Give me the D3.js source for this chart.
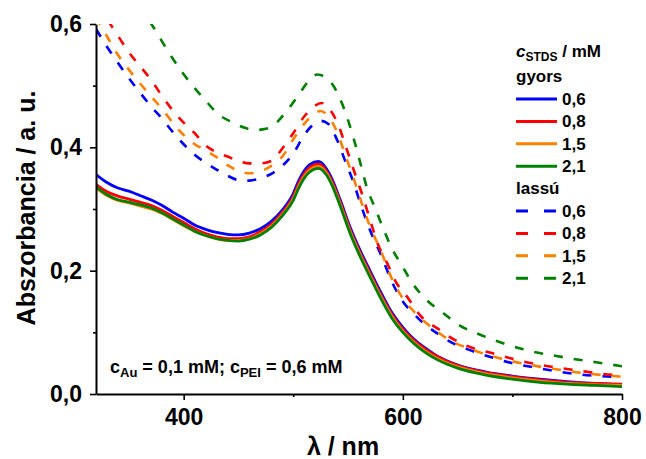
<!DOCTYPE html>
<html>
<head>
<meta charset="utf-8">
<script src="https://cdn.jsdelivr.net/npm/d3@7"></script>
<style>
  body { margin: 0; background: #fff; }
  svg { font-family: "Liberation Sans", Arial, sans-serif; font-weight: bold; }
</style>
</head>
<body>
<svg id="viz" width="646" height="459"></svg>
<script>
// === DATA ===
// gyors (solid) spectra share one wavelength grid
const wlSolid = [320,330,340,350,360,370,380,390,400,410,420,430,440,450,460,470,480,490,500,505,510,515,523,530,535,543,552,561,570,579,590,600,610,620,630,650,675,700,725,750,775,800];
const gyors06 = [0.356,0.343,0.334,0.329,0.322,0.315,0.306,0.295,0.285,0.274,0.267,0.262,0.259,0.258,0.261,0.268,0.280,0.298,0.325,0.346,0.362,0.372,0.377,0.366,0.350,0.314,0.270,0.233,0.200,0.168,0.132,0.108,0.089,0.075,0.063,0.047,0.036,0.029,0.024,0.020,0.017,0.015];
const gyors08 = [0.340,0.328,0.321,0.316,0.311,0.306,0.298,0.288,0.278,0.268,0.260,0.255,0.252,0.252,0.255,0.263,0.275,0.294,0.320,0.341,0.357,0.367,0.373,0.362,0.346,0.310,0.266,0.229,0.196,0.164,0.129,0.105,0.087,0.073,0.062,0.046,0.035,0.028,0.023,0.019,0.017,0.016];
const gyors15 = [0.334,0.322,0.314,0.310,0.305,0.300,0.293,0.283,0.273,0.264,0.257,0.252,0.249,0.249,0.252,0.260,0.272,0.291,0.317,0.337,0.353,0.363,0.369,0.359,0.343,0.307,0.263,0.226,0.193,0.161,0.126,0.102,0.084,0.070,0.059,0.044,0.033,0.026,0.021,0.017,0.015,0.014];
const gyors21 = [0.336,0.323,0.315,0.311,0.307,0.302,0.294,0.284,0.274,0.264,0.257,0.252,0.249,0.248,0.251,0.258,0.270,0.289,0.314,0.334,0.350,0.360,0.366,0.356,0.340,0.304,0.260,0.223,0.190,0.158,0.123,0.100,0.082,0.068,0.057,0.042,0.031,0.024,0.019,0.016,0.014,0.012];

// lassú (dashed) spectra
const wlLassu06 = [320,330,340,350,360,370,380,390,400,410,420,430,440,450,460,470,480,490,500,510,517,525,532,540,548,555,562,570,580,590,600,610,620,630,645,660,680,700,720,740,760,780,800];
const lassu06 = [0.592,0.563,0.537,0.512,0.489,0.467,0.447,0.425,0.405,0.388,0.375,0.364,0.354,0.347,0.346,0.350,0.357,0.370,0.390,0.420,0.435,0.443,0.438,0.412,0.375,0.343,0.305,0.266,0.226,0.182,0.150,0.130,0.113,0.100,0.083,0.072,0.060,0.050,0.043,0.037,0.032,0.029,0.027];
const wlLassu08 = [320,330,340,350,360,370,380,390,400,410,420,430,440,450,460,470,480,490,500,510,518,526,533,540,549,556,563,570,577,586,593,605,616,632,648,663,682,700,720,740,760,780,800];
const lassu08 = [0.632,0.608,0.581,0.554,0.532,0.510,0.484,0.460,0.440,0.423,0.403,0.392,0.385,0.378,0.374,0.374,0.378,0.398,0.423,0.450,0.465,0.472,0.462,0.441,0.396,0.359,0.323,0.283,0.244,0.211,0.184,0.155,0.127,0.106,0.087,0.075,0.066,0.057,0.049,0.043,0.038,0.033,0.030];
const wlLassu15 = [320,330,340,350,360,370,380,390,400,410,420,430,440,450,460,470,480,490,500,510,518,525,532,540,547,555,562,570,580,590,600,610,620,630,645,660,680,700,720,740,760,780,800];
const lassu15 = [0.612,0.580,0.550,0.526,0.504,0.483,0.463,0.440,0.420,0.405,0.395,0.384,0.371,0.362,0.358,0.361,0.370,0.385,0.413,0.438,0.453,0.459,0.450,0.425,0.390,0.350,0.312,0.272,0.232,0.187,0.155,0.134,0.117,0.103,0.085,0.074,0.062,0.053,0.046,0.040,0.035,0.031,0.028];
const wlLassu21 = [320,340,360,372,386,399,410,420,430,445,455,465,475,482,495,508,515,522,529,535,545,555,561,567,575,582,590,599,609,622,637,652,668,684,701,718,739,759,778,800];
const lassu21 = [0.740,0.690,0.628,0.596,0.555,0.521,0.496,0.476,0.456,0.440,0.432,0.428,0.430,0.436,0.461,0.493,0.510,0.518,0.514,0.504,0.469,0.415,0.376,0.336,0.300,0.269,0.236,0.209,0.179,0.152,0.131,0.111,0.098,0.087,0.077,0.069,0.062,0.056,0.051,0.045];

const seriesNames = ["0,6", "0,8", "1,5", "2,1"];
const seriesColors = ["#0000ff", "#ff0000", "#ff8000", "#008000"];

const xTicks = [400, 600, 800];
const xMinorTicks = [500, 700];
const yTicks = [0, 0.2, 0.4, 0.6];
const yMinorTicks = [0.1, 0.3, 0.5];

// === SETUP ===
const svg = d3.select("#viz");
const margin = { top: 24, right: 24, bottom: 65, left: 96 };
const width = +svg.attr("width");
const height = +svg.attr("height");
const plotWidth = width - margin.left - margin.right;
const plotHeight = height - margin.top - margin.bottom;

const g = svg.append("g").attr("transform", `translate(${margin.left},${margin.top})`);

const x = d3.scaleLinear().domain([320, 800]).range([0, plotWidth]);
const y = d3.scaleLinear().domain([0, 0.6]).range([plotHeight, 0]);

const comma = d => d3.format(".1f")(d).replace(".", ",");

svg.append("defs").append("clipPath").attr("id", "plotClip")
  .append("rect").attr("x", 0).attr("y", 0).attr("width", plotWidth).attr("height", plotHeight);

// === CURVES ===
const line = d3.line()
  .x(d => x(d[0]))
  .y(d => y(d[1]))
  .curve(d3.curveMonotoneX);

const solids = [gyors06, gyors08, gyors15, gyors21].map(vals => wlSolid.map((w, i) => [w, vals[i]]));
const dashed = [
  d3.zip(wlLassu06, lassu06),
  d3.zip(wlLassu08, lassu08),
  d3.zip(wlLassu15, lassu15),
  d3.zip(wlLassu21, lassu21)
];

const curves = g.append("g").attr("clip-path", "url(#plotClip)");

curves.selectAll(".dash")
  .data(dashed)
  .enter()
  .append("path")
  .attr("fill", "none")
  .attr("stroke", (d, i) => seriesColors[i])
  .attr("stroke-width", 2.6)
  .attr("stroke-dasharray", "9,11")
  .attr("d", line);

curves.selectAll(".solid")
  .data(solids)
  .enter()
  .append("path")
  .attr("fill", "none")
  .attr("stroke", (d, i) => seriesColors[i])
  .attr("stroke-width", 2.8)
  .attr("d", line);

// === AXES ===
function styleAxis(sel) {
  sel.selectAll("path.domain").attr("stroke-width", 2).attr("stroke", "#000");
  sel.selectAll("line").attr("stroke-width", 1.6).attr("stroke", "#000");
  sel.selectAll("text").style("font-size", "23px").style("font-weight", "bold").attr("fill", "#000");
}

const xAxis = g.append("g").attr("transform", `translate(0,${plotHeight})`)
  .call(d3.axisBottom(x).tickValues(xTicks).tickSize(6).tickSizeOuter(0).tickPadding(9).tickFormat(d3.format("d")))
  .call(styleAxis);
const xMinor = g.append("g").attr("transform", `translate(0,${plotHeight})`)
  .call(d3.axisBottom(x).tickValues(xMinorTicks).tickSize(3).tickSizeOuter(0).tickFormat(""))
  .call(styleAxis);
xMinor.select("path.domain").remove();

const yAxis = g.append("g")
  .call(d3.axisLeft(y).tickValues(yTicks).tickSize(6).tickSizeOuter(0).tickPadding(8).tickFormat(comma))
  .call(styleAxis);
const yMinor = g.append("g")
  .call(d3.axisLeft(y).tickValues(yMinorTicks).tickSize(3).tickSizeOuter(0).tickFormat(""))
  .call(styleAxis);
yMinor.select("path.domain").remove();

// axis titles
svg.append("text")
  .attr("transform", "translate(35,208) rotate(-90)")
  .attr("text-anchor", "middle")
  .style("font-size", "25px")
  .text("Abszorbancia / a. u.");

svg.append("text")
  .attr("x", 343)
  .attr("y", 455)
  .attr("text-anchor", "middle")
  .style("font-size", "25px")
  .text("λ / nm");

// === ANNOTATION ===
const note = svg.append("text").attr("x", 110).attr("y", 373).style("font-size", "18px");
note.append("tspan").text("c");
note.append("tspan").attr("dy", 4).style("font-size", "13px").text("Au");
note.append("tspan").attr("dy", -4).text(" = 0,1 mM; c");
note.append("tspan").attr("dy", 4).style("font-size", "13px").text("PEI");
note.append("tspan").attr("dy", -4).text(" = 0,6 mM");

// === LEGEND ===
const legend = svg.append("g");
const head = legend.append("text").attr("x", 516).attr("y", 57).style("font-size", "17px");
head.append("tspan").style("font-style", "italic").text("c");
head.append("tspan").attr("dy", 4).style("font-size", "12px").text("STDS");
head.append("tspan").attr("dy", -4).text(" / mM");

legend.append("text").attr("x", 516).attr("y", 82).style("font-size", "17px").text("gyors");
legend.append("text").attr("x", 516).attr("y", 194).style("font-size", "17px").text("lassú");

const rowY0 = 99;
const rowY1 = 211;
const rowStep = 22.4;

seriesNames.forEach((name, i) => {
  [[rowY0, null], [rowY1, "12,16"]].forEach(([y0, dash]) => {
    const yy = y0 + i * rowStep;
    legend.append("line")
      .attr("x1", 516).attr("x2", 557)
      .attr("y1", yy).attr("y2", yy)
      .attr("stroke", seriesColors[i])
      .attr("stroke-width", 3)
      .attr("stroke-dasharray", dash);
    legend.append("text")
      .attr("x", 562).attr("y", yy + 6)
      .style("font-size", "17px")
      .text(name);
  });
});
</script>
</body>
</html>
